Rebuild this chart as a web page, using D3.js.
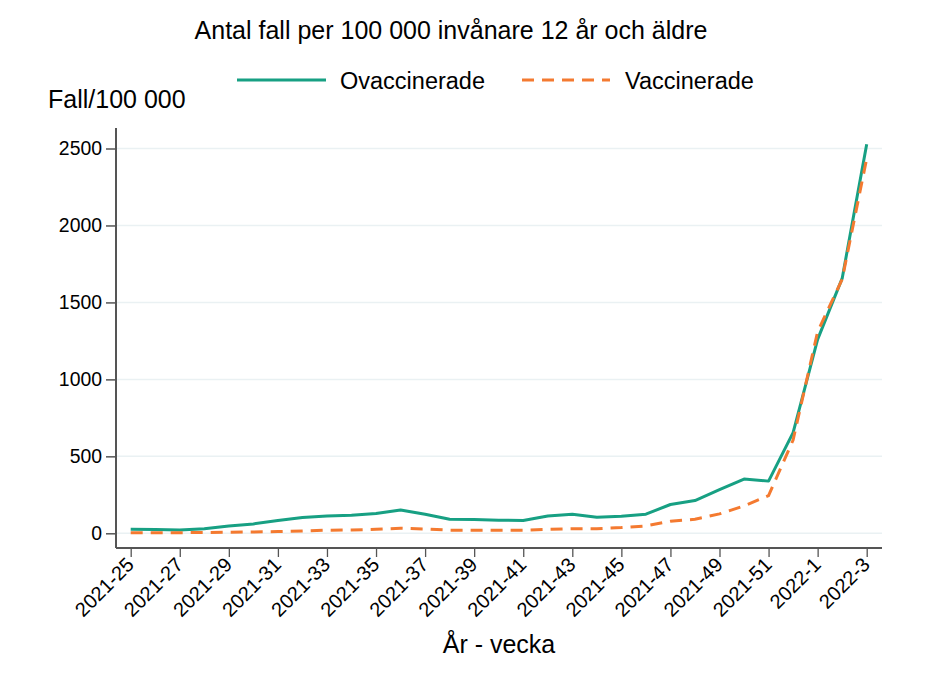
<!DOCTYPE html>
<html><head><meta charset="utf-8">
<script src="https://cdn.jsdelivr.net/npm/d3@7"></script>
<style>body{margin:0;background:#fff}svg{display:block;font-family:"Liberation Sans",Arial,sans-serif}</style>
</head><body><svg id="c" width="928" height="681"></svg>
<script>
const weeks = ["2021-25","2021-26","2021-27","2021-28","2021-29","2021-30","2021-31","2021-32","2021-33","2021-34","2021-35","2021-36","2021-37","2021-38","2021-39","2021-40","2021-41","2021-42","2021-43","2021-44","2021-45","2021-46","2021-47","2021-48","2021-49","2021-50","2021-51","2021-52","2022-1","2022-2","2022-3"];
const ovaccinerade = [26,25,22,30,48,61,83,102,113,117,128,152,124,91,89,85,83,113,124,104,111,124,187,213,283,352,339,654,1260,1656,2528];
const vaccinerade = [4,4,4,5,7,9,11,15,20,22,26,33,28,20,20,20,20,26,30,30,37,48,78,91,126,178,245,606,1310,1650,2435];
const tickLabels = ["2021-25","2021-27","2021-29","2021-31","2021-33","2021-35","2021-37","2021-39","2021-41","2021-43","2021-45","2021-47","2021-49","2021-51","2022-1","2022-3"];
const yTicks = [0,500,1000,1500,2000,2500];

const svg = d3.select("#c");
const green = "#17a083", orange = "#f47a30";
const x = d3.scalePoint().domain(weeks).range([130.7, 866.7]);
const y = d3.scaleLinear().domain([0,2500]).range([533.3, 148.5]);
const pLeft = 116, pRight = 882, pTop = 128, pBottom = 548;

// gridlines
svg.append("g").selectAll("line").data(yTicks).join("line")
  .attr("x1", pLeft).attr("x2", pRight)
  .attr("y1", d=>y(d)).attr("y2", d=>y(d))
  .attr("stroke", "#eaf1f3").attr("stroke-width", 1.5);

// y axis
const ya = svg.append("g").attr("transform", `translate(${pLeft},0)`)
  .call(d3.axisLeft(y).tickValues(yTicks).tickSize(10).tickPadding(4).tickFormat(d3.format("d")));
ya.select(".domain").remove();
ya.selectAll(".tick line").attr("stroke", "#555").attr("stroke-width", 1.5);
ya.selectAll(".tick text").attr("font-size", 19.4).attr("fill", "#000").attr("font-family", "Liberation Sans, Arial, sans-serif");
svg.append("line").attr("x1", pLeft).attr("x2", pLeft).attr("y1", pTop).attr("y2", pBottom).attr("stroke", "#555").attr("stroke-width", 2);

// x axis
const xa = svg.append("g").attr("transform", `translate(0,${pBottom})`)
  .call(d3.axisBottom(x).tickValues(tickLabels).tickSize(9).tickSizeOuter(0));
xa.select(".domain").remove();
xa.selectAll(".tick line").attr("stroke", "#555").attr("stroke-width", 1.3);
xa.selectAll(".tick text").attr("font-size", 20).attr("fill", "#000")
  .attr("font-family", "Liberation Sans, Arial, sans-serif")
  .attr("text-anchor", "end").attr("dy", 0)
  .attr("transform", "translate(4,18) rotate(-45)").attr("y", 0).attr("x", 0);
svg.append("line").attr("x1", pLeft).attr("x2", pRight).attr("y1", pBottom).attr("y2", pBottom).attr("stroke", "#555").attr("stroke-width", 2);

// lines
const line = d3.line().x((d,i)=>x(weeks[i])).y(d=>y(d));
svg.append("path").datum(ovaccinerade).attr("d", line).attr("fill","none")
  .attr("stroke", green).attr("stroke-width", 3).attr("stroke-linejoin","round");
svg.append("path").datum(vaccinerade).attr("d", line).attr("fill","none")
  .attr("stroke", orange).attr("stroke-width", 3).attr("stroke-dasharray","12,8");

// titles
svg.append("text").attr("x", 451).attr("y", 39).attr("text-anchor","middle")
  .attr("font-size", 25).text("Antal fall per 100 000 invånare 12 år och äldre");
svg.append("text").attr("x", 48).attr("y", 108).attr("font-size", 25).text("Fall/100 000");
svg.append("text").attr("x", 499).attr("y", 653).attr("text-anchor","middle")
  .attr("font-size", 25).text("År - vecka");

// legend
const lg = svg.append("g");
lg.append("line").attr("x1",237).attr("x2",326).attr("y1",80).attr("y2",80).attr("stroke",green).attr("stroke-width",3);
lg.append("text").attr("x",340).attr("y",89).attr("font-size",23.5).text("Ovaccinerade");
lg.append("line").attr("x1",522).attr("x2",610).attr("y1",80).attr("y2",80).attr("stroke",orange).attr("stroke-width",3).attr("stroke-dasharray","12,8");
lg.append("text").attr("x",625).attr("y",89).attr("font-size",23.5).text("Vaccinerade");
</script></body></html>
